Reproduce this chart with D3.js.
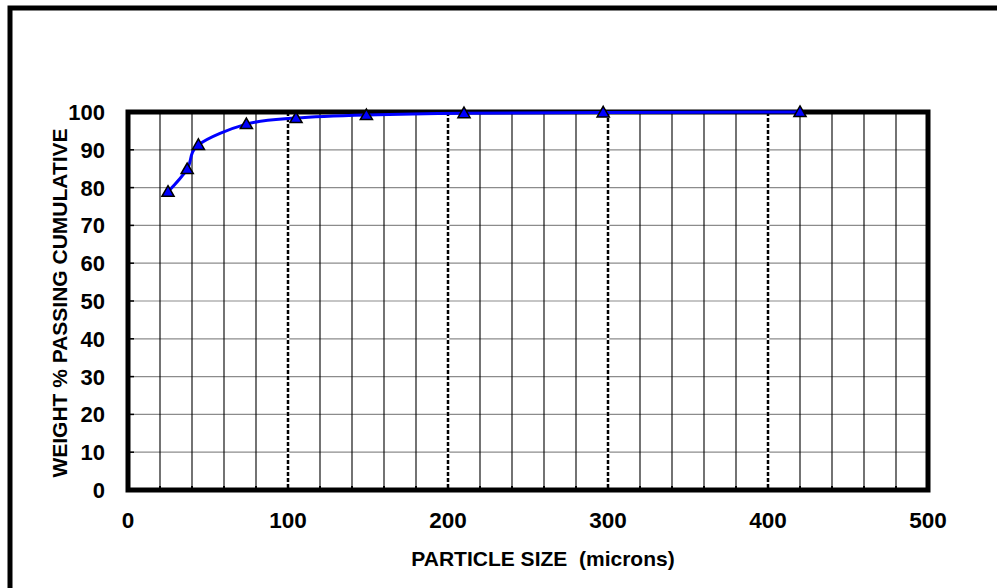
<!DOCTYPE html>
<html>
<head>
<meta charset="utf-8">
<script src="https://cdn.jsdelivr.net/npm/d3@7"></script>
<style>
  html, body { margin: 0; padding: 0; background: #fff; }
  svg { display: block; }
  text { font-family: Arial, "Liberation Sans", sans-serif; font-weight: bold; fill: #000; }
</style>
</head>
<body>
<svg id="chart" width="997" height="588"></svg>
<script>
// Particle size distribution: cumulative weight % passing vs sieve size
const sizes = [25, 37, 44, 74, 105, 149, 210, 297, 420];          // microns
const passing = [78.9, 84.9, 91.3, 96.8, 98.4, 99.2, 99.7, 99.9, 100]; // weight %
const xTicks = [0, 100, 200, 300, 400, 500];
const yTicks = [0, 10, 20, 30, 40, 50, 60, 70, 80, 90, 100];
const xTitle = "PARTICLE SIZE  (microns)";
const yTitle = "WEIGHT % PASSING CUMULATIVE";

const svg = d3.select("#chart");
const pL = 128, pR = 928, pT = 112, pB = 490;

const x = d3.scaleLinear().domain([0, 500]).range([pL, pR]);
const y = d3.scaleLinear().domain([0, 100]).range([pB, pT]);

// outer frame (left and top edges visible)
svg.append("rect")
  .attr("x", 10).attr("y", 8).attr("width", 1100).attr("height", 700)
  .attr("fill", "none").attr("stroke", "#000").attr("stroke-width", 5);

const g = svg.append("g");

// horizontal gridlines
g.append("g").selectAll("line")
  .data(yTicks.filter(v => v > 0 && v < 100))
  .join("line")
  .attr("x1", pL).attr("x2", pR)
  .attr("y1", d => y(d)).attr("y2", d => y(d))
  .attr("stroke", "#8c8c8c").attr("stroke-width", 1.2);

// vertical gridlines every 20 microns; dashed at the hundreds
const minor = d3.range(20, 500, 20).filter(v => v % 100 !== 0);
const major = [100, 200, 300, 400];
g.append("g").selectAll("line")
  .data(minor)
  .join("line")
  .attr("x1", d => x(d)).attr("x2", d => x(d))
  .attr("y1", pT).attr("y2", pB)
  .attr("stroke", "#000").attr("stroke-width", 1.1);
g.append("g").selectAll("line")
  .data(major)
  .join("line")
  .attr("x1", d => x(d)).attr("x2", d => x(d))
  .attr("y1", pT).attr("y2", pB)
  .attr("stroke", "#fff").attr("stroke-width", 2.5);
g.append("g").selectAll("line")
  .data(major)
  .join("line")
  .attr("x1", d => x(d)).attr("x2", d => x(d))
  .attr("y1", pT).attr("y2", pB)
  .attr("stroke", "#000").attr("stroke-width", 2.5)
  .attr("stroke-dasharray", "4,2");

// small inward tick marks
g.append("g").selectAll("line")
  .data(yTicks)
  .join("line")
  .attr("x1", pL).attr("x2", pL + 6)
  .attr("y1", d => y(d)).attr("y2", d => y(d))
  .attr("stroke", "#000").attr("stroke-width", 1.5);
g.append("g").selectAll("line")
  .data(d3.range(20, 500, 20))
  .join("line")
  .attr("x1", d => x(d)).attr("x2", d => x(d))
  .attr("y1", pB).attr("y2", pB - 4)
  .attr("stroke", "#000").attr("stroke-width", 2);

// plot frame
g.append("rect")
  .attr("x", pL).attr("y", pT)
  .attr("width", pR - pL).attr("height", pB - pT)
  .attr("fill", "none").attr("stroke", "#000").attr("stroke-width", 5);

// tick labels
g.append("g").selectAll("text")
  .data(xTicks)
  .join("text")
  .attr("x", d => x(d)).attr("y", 528)
  .attr("text-anchor", "middle")
  .attr("font-size", 22.5)
  .text(d => d);
g.append("g").selectAll("text")
  .data(yTicks)
  .join("text")
  .attr("x", 105).attr("y", d => y(d))
  .attr("dy", "0.36em")
  .attr("text-anchor", "end")
  .attr("font-size", 22)
  .text(d => d);

// axis titles
svg.append("text")
  .attr("x", 543).attr("y", 566)
  .attr("text-anchor", "middle")
  .attr("font-size", 21)
  .attr("xml:space", "preserve")
  .style("white-space", "pre")
  .text(xTitle);
svg.append("text")
  .attr("transform", `translate(67,${(pT + pB) / 2 + 2}) rotate(-90)`)
  .attr("text-anchor", "middle")
  .attr("font-size", 21)
  .text(yTitle);

// smoothed distribution curve
const pts = sizes.map((s, i) => [s, passing[i]]);
const line = d3.line()
  .x(d => x(d[0])).y(d => y(d[1]))
  .curve(d3.curveCardinal.tension(0));
g.append("path")
  .datum(pts)
  .attr("d", line)
  .attr("fill", "none")
  .attr("stroke", "#0000ff")
  .attr("stroke-width", 3);

// triangle markers
const tri = d3.symbol().type(d3.symbolTriangle).size(64);
g.append("g").selectAll("path")
  .data(pts)
  .join("path")
  .attr("transform", d => `translate(${x(d[0])},${y(d[1]) + 1})`)
  .attr("d", tri)
  .attr("fill", "#0000ff")
  .attr("stroke", "#000")
  .attr("stroke-width", 1.5);
</script>
</body>
</html>
